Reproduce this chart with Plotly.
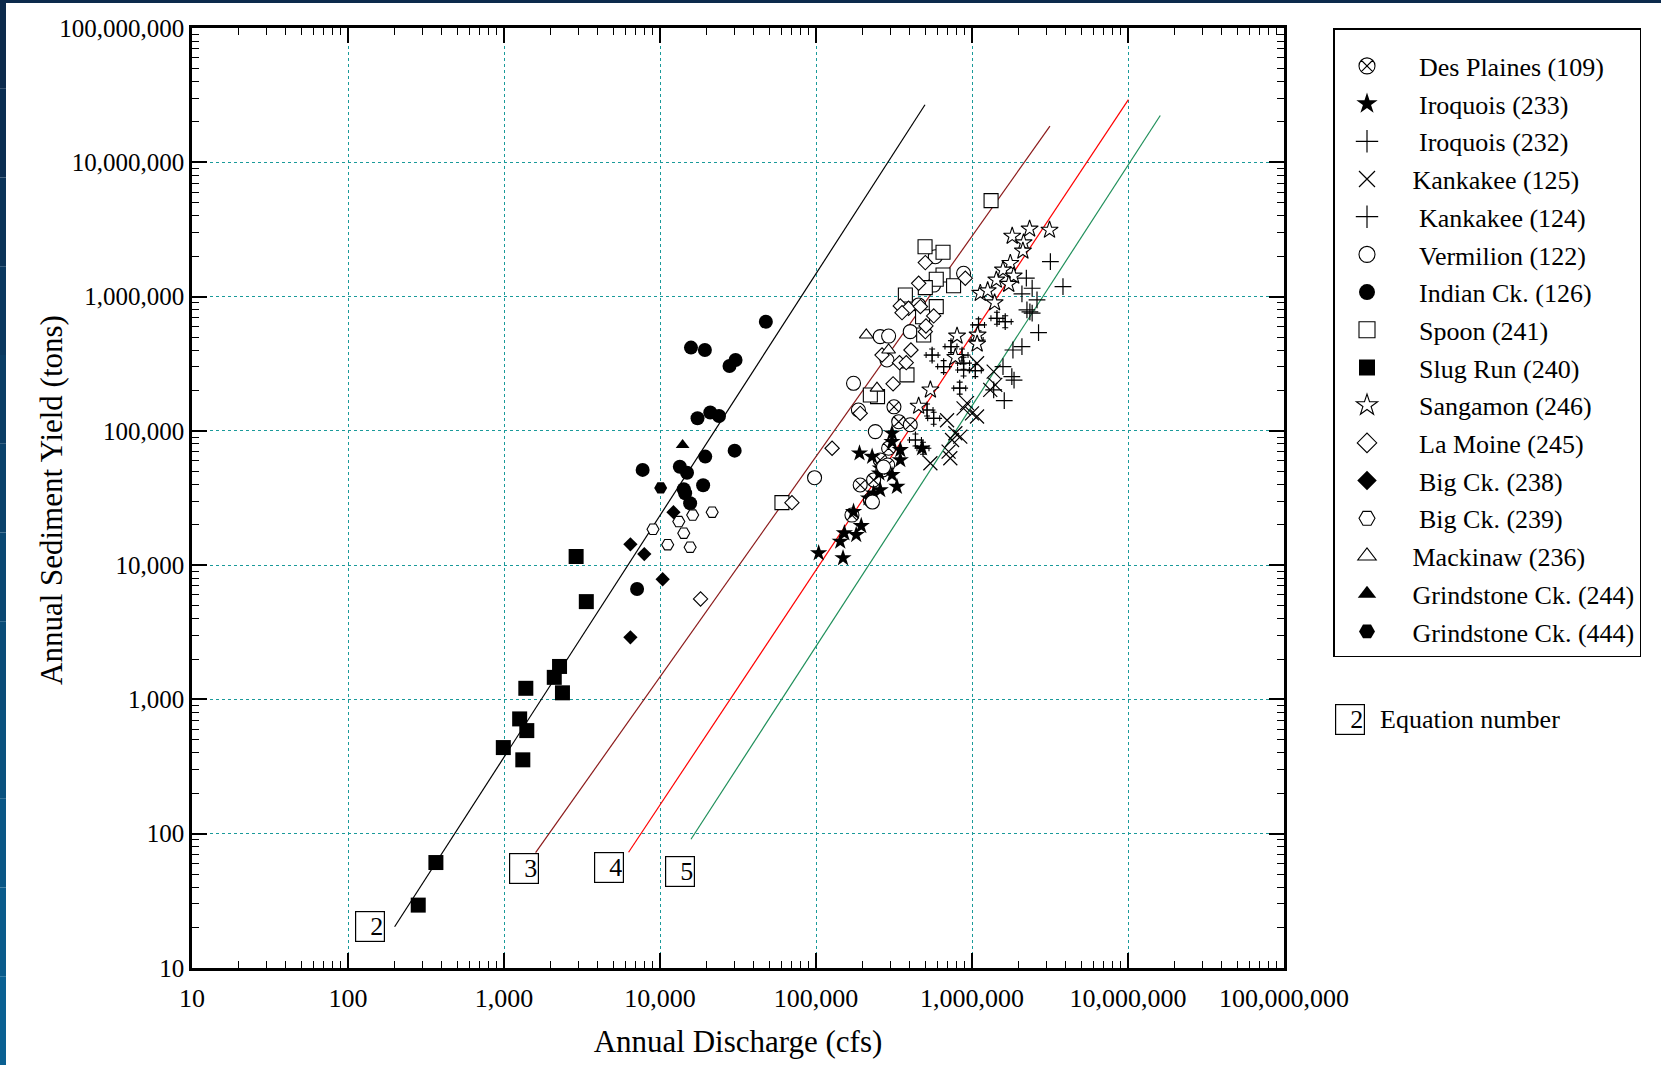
import math
import plotly.graph_objects as go

# ---------------- data ----------------
tick_vals = [10, 100, 1000, 10000, 100000, 1000000, 10000000, 100000000]
tick_text = ["10", "100", "1,000", "10,000", "100,000", "1,000,000", "10,000,000", "100,000,000"]

des_plaines_x = [316000, 339000, 402000, 292000, 258000, 288000, 268000, 192000, 234000, 223000, 170000]
des_plaines_y = [151000, 117000, 111000, 74200, 60700, 55700, 51200, 39500, 43100, 30600, 23600]

iroquois233_x = [104000, 149000, 143000, 152000, 181000, 195000, 174000, 190000, 229000, 307000, 307000,
                 347000, 347000, 258000, 307000, 330000, 258000, 234000, 217000, 478000, 255000]
iroquois233_y = [12300, 11300, 15000, 17300, 16800, 19600, 25000, 68100, 64300, 96000, 83000,
                 72100, 60700, 52700, 47000, 38400, 36300, 34300, 31500, 74200, 48300]

iroquois232_x = [1101000, 1445000, 1633000, 733000, 555000, 658000, 863000, 883000, 1050000, 834000,
                 515000, 568000, 434000, 485000, 1079000, 883000]
iroquois232_y = [615000, 689000, 650000, 424000, 367000, 301000, 367000, 284000, 281000, 208000,
                 143000, 124000, 85500, 74200, 475000, 319000]

kankakee125_x = [1077000, 1377000, 1309000, 929000, 1000000, 1077000, 692000, 782000, 745000, 708000,
                 726000, 541000, 883000, 1410000, 841000]
kankakee125_y = [319000, 276000, 202000, 161000, 135000, 128000, 120000, 96000, 85500, 70000,
                 62500, 57400, 147000, 220000, 90600]

kankakee124_x = [3180000, 3830000, 2230000, 2430000, 2090000, 2610000, 2250000, 2430000, 2670000,
                 2090000, 1830000, 1580000, 1800000, 1860000, 1610000, 1377000, 2350000]
kankakee124_y = [1820000, 1185000, 1370000, 1153000, 1046000, 944000, 795000, 752000, 538000,
                 424000, 400000, 301000, 253000, 239000, 168000, 202000, 770000]

vermilion_x = [174000, 258000, 292000, 285000, 402000, 455000, 568000, 883000, 582000, 187000,
               240000, 97900, 271000, 230000]
vermilion_y = [226000, 503000, 508000, 337000, 548000, 866000, 1218000, 1490000, 1980000, 143000,
               98700, 44800, 53800, 29500]

indian_x = [47700, 15800, 19400, 30500, 27900, 21000, 23900, 17400, 30100, 19500, 7740, 13400,
            14900, 18900, 14200, 15600, 7130, 14500]
indian_y = [650000, 417000, 400000, 337000, 304000, 137000, 129000, 124000, 71200, 64300, 51200, 54100,
            48800, 39400, 36700, 28900, 6650, 34300]

spoon_x = [500000, 652000, 652000, 762000, 590000, 374000, 502000, 590000, 482000, 490000, 383000,
           248000, 60500, 1325000, 223000]
spoon_y = [2350000, 2140000, 1448000, 1205000, 1345000, 1028000, 1165000, 842000, 708000, 518000, 261000,
           180000, 29200, 5180000, 185000]

slug_x = [2900, 3370, 2270, 2100, 1380, 2370, 1260, 1400, 990, 1320, 366, 282]
slug_y = [11600, 5350, 1760, 1460, 1210, 1120, 716, 586, 438, 355, 61, 29.4]

sangamon_x = [2340000, 3140000, 1810000, 2140000, 2120000, 1760000, 1580000, 1850000, 1432000, 1720000,
              1130000, 1260000, 1396000, 802000, 1086000, 782000, 541000, 455000, 1079000]
sangamon_y = [3190000, 3130000, 2820000, 2520000, 2186000, 1770000, 1578000, 1424000, 1329000, 1236000,
              1059000, 1107000, 901000, 509000, 518000, 353000, 202000, 153000, 444000]

lamoine_x = [18200, 70100, 126800, 192000, 312000, 265000, 343000, 406000, 379000, 502000, 347000,
             392000, 467000, 568000, 455000, 502000, 906000, 356000, 507000]
lamoine_y = [5600, 29200, 74200, 135000, 224000, 367000, 322000, 400000, 322000, 548000, 851000,
             818000, 842000, 718000, 1256000, 1790000, 1370000, 759000, 604000]

bigck238_x = [12200, 6460, 7930, 10400, 6460]
bigck238_y = [24800, 14300, 12100, 7850, 2900]

bigck239_x = [16200, 21600, 13200, 9020, 14200, 11200, 15600]
bigck239_y = [23600, 24800, 21100, 18500, 17300, 14200, 13600]

mackinaw_x = [210000, 292000, 246000]
mackinaw_y = [518000, 400000, 208000]

grind244_x = [13960]
grind244_y = [78500]

grind444_x = [10100]
grind444_y = [37600]

# regression lines (end points) for equations 2-5
eq_names = ["2", "3", "4", "5"]
eq_x = [[199, 499600], [1594, 3160000], [6290, 10060000], [15800, 16100000]]
eq_y = [[20.3, 26800000], [72.3, 18600000], [72.8, 29300000], [91, 22300000]]
eq_colors = ["#000000", "#8b1a1a", "#ff0000", "#1f8f5a"]

FONT = "Liberation Serif"
SP3 = "\u00a0\u00a0\u00a0"
SP2 = "\u00a0\u00a0"

fig = go.Figure()

for xs, ys, c in zip(eq_x, eq_y, eq_colors):
    fig.add_trace(go.Scatter(x=xs, y=ys, mode="lines", line=dict(color=c, width=1.2),
                             showlegend=False, hoverinfo="skip"))

def open_m(sym, size):
    return dict(symbol=sym, size=size, color="white", line=dict(color="black", width=1.1))

def fill_m(sym, size):
    return dict(symbol=sym, size=size, color="black", line=dict(color="black", width=0))

def line_m(sym, size):
    return dict(symbol=sym, size=size, color="black", line=dict(color="black", width=1.2))

kx = 10 ** (6 / 156.0)
ky = 10 ** (6 / 134.3)

# (legend name, indent, x, y, plot marker, legend marker)
series = [
    ("Des Plaines (109)", SP3, des_plaines_x, des_plaines_y, open_m("circle-x", 14), open_m("circle-x", 16)),
    ("Iroquois (233)", SP3, iroquois233_x, iroquois233_y, fill_m("star", 13), fill_m("star", 16)),
    ("Iroquois (232)", SP3, iroquois232_x, iroquois232_y, line_m("cross-thin-open", 12), line_m("cross-thin-open", 16)),
    ("Kankakee (125)", SP2, kankakee125_x, kankakee125_y, line_m("x-thin-open", 14), line_m("x-thin-open", 16)),
    ("Kankakee (124)", SP3, kankakee124_x, kankakee124_y, line_m("cross-thin-open", 12), line_m("cross-thin-open", 16)),
    ("Vermilion (122)", SP3, vermilion_x, vermilion_y, open_m("circle", 14), open_m("circle", 16)),
    ("Indian Ck. (126)", SP3, indian_x, indian_y, fill_m("circle", 14), fill_m("circle", 16)),
    ("Spoon (241)", SP3, spoon_x, spoon_y, open_m("square", 14), open_m("square", 16)),
    ("Slug Run (240)", SP3, slug_x, slug_y, fill_m("square", 15), fill_m("square", 16)),
    ("Sangamon (246)", SP3, sangamon_x, sangamon_y, open_m("star", 13), open_m("star", 16)),
    ("La Moine (245)", SP3, lamoine_x, lamoine_y, open_m("diamond", 11), open_m("diamond", 15)),
    ("Big Ck. (238)", SP3, bigck238_x, bigck238_y, fill_m("diamond", 11), fill_m("diamond", 15)),
    ("Big Ck. (239)", SP3, bigck239_x, bigck239_y, open_m("hexagon2", 12), open_m("hexagon2", 16)),
    ("Mackinaw (236)", SP2, mackinaw_x, mackinaw_y, open_m("triangle-up", 12), open_m("triangle-up", 16)),
    ("Grindstone Ck. (244)", SP2, grind244_x, grind244_y, fill_m("triangle-up", 12), fill_m("triangle-up", 16)),
    ("Grindstone Ck. (444)", SP2, grind444_x, grind444_y, fill_m("hexagon2", 13), fill_m("hexagon2", 16)),
]

for i, (name, pad, xs, ys, m, lm) in enumerate(series):
    kw = {}
    if name == "Iroquois (232)":
        kw["error_x"] = dict(type="data", symmetric=False,
                             array=[v * (kx - 1) for v in xs], arrayminus=[v * (1 - 1 / kx) for v in xs],
                             color="black", thickness=1.1, width=3)
        kw["error_y"] = dict(type="data", symmetric=False,
                             array=[v * (ky - 1) for v in ys], arrayminus=[v * (1 - 1 / ky) for v in ys],
                             color="black", thickness=1.1, width=3)
    fig.add_trace(go.Scatter(x=xs, y=ys, mode="markers", name=name, marker=m,
                             legendgroup="g%d" % i, showlegend=False, **kw))

# legend entries (bigger symbols, like the original key)
for i, (name, pad, xs, ys, m, lm) in enumerate(series):
    fig.add_trace(go.Scatter(x=[None], y=[None], mode="markers", name=pad + name, marker=lm,
                             legendgroup="g%d" % i, showlegend=True))

minor_vals = [m * 10 ** d for d in range(1, 8) for m in range(2, 10)]

axis_common = dict(
    type="log", range=[1, 8], tickmode="array", tickvals=tick_vals, ticktext=tick_text,
    ticks="inside", ticklen=15, tickwidth=1.5, tickcolor="black",
    showline=True, linecolor="black", linewidth=2.5, mirror="allticks",
    showgrid=True, gridcolor="#1a9a9a", griddash="dot", gridwidth=1,
    zeroline=False, automargin=False,
    minor=dict(tickmode="array", tickvals=minor_vals, ticks="inside", ticklen=7,
               tickwidth=1, tickcolor="black", showgrid=False),
)

fig.update_xaxes(**axis_common, ticklabelstandoff=5,
                 tickfont=dict(family=FONT, size=26, color="black"),
                 title=dict(text="Annual Discharge (cfs)", font=dict(family=FONT, size=31, color="black"),
                            standoff=19))
fig.update_yaxes(**axis_common, ticklabelstandoff=0,
                 tickfont=dict(family=FONT, size=25, color="black"))

# page geometry helpers
W, H = 1661.0, 1065.0
L, T, PW, PH = 192.0, 28.0, 1092.0, 940.0
def px2paper_x(p):
    return (p - L) / PW
def px2paper_y(q):
    return (T + PH - q) / PH

# y axis title
fig.add_annotation(x=px2paper_x(51), y=px2paper_y(500), xref="paper", yref="paper",
                   text="Annual Sediment Yield (tons)", textangle=-90, showarrow=False,
                   xanchor="center", yanchor="middle",
                   font=dict(family=FONT, size=31, color="black"))

# equation number boxes attached to the start of each line
eq_label_offsets = [(-10, 0, "middle"), (3, 0, "top"), (-5, 0, "top"), (4, -17, "top")]
for name, xs, ys, (dx, dy, ya) in zip(eq_names, eq_x, eq_y, eq_label_offsets):
    fig.add_annotation(x=math.log10(xs[0]), y=math.log10(ys[0]), xref="x", yref="y",
                       text=name, showarrow=False, xanchor="right", yanchor=ya,
                       xshift=dx, yshift=dy, width=26, height=27, align="right",
                       bordercolor="black", borderwidth=1.2, borderpad=1, bgcolor="white",
                       font=dict(family=FONT, size=26, color="black"))

# "Equation number" key
fig.add_annotation(x=px2paper_x(1349.5), y=px2paper_y(719), xref="paper", yref="paper", text="2",
                   showarrow=False, xanchor="center", yanchor="middle", width=26, height=27, align="right",
                   bordercolor="black", borderwidth=1.2, borderpad=1, bgcolor="white",
                   font=dict(family=FONT, size=26, color="black"))
fig.add_annotation(x=px2paper_x(1378), y=px2paper_y(719), xref="paper", yref="paper", text="Equation number",
                   showarrow=False, xanchor="left", yanchor="middle",
                   font=dict(family=FONT, size=26, color="black"))

# page frame strips
shapes = [dict(type="rect", xref="paper", yref="paper", x0=px2paper_x(0), x1=px2paper_x(W),
               y0=px2paper_y(3), y1=px2paper_y(0), fillcolor="#0c2a4c", line=dict(width=0), layer="above")]
nb = 12
for k in range(nb):
    t = k / (nb - 1)
    r = int(12 + (10 - 12) * t)
    g = int(42 + (96 - 42) * t)
    b = int(76 + (146 - 76) * t)
    shapes.append(dict(type="rect", xref="paper", yref="paper", x0=px2paper_x(0), x1=px2paper_x(6),
                       y0=px2paper_y(H * (k + 1) / nb), y1=px2paper_y(H * k / nb),
                       fillcolor="rgb(%d,%d,%d)" % (r, g, b), line=dict(width=0), layer="above"))

fig.update_layout(
    width=1661, height=1065,
    margin=dict(l=192, r=377, t=28, b=97),
    paper_bgcolor="white", plot_bgcolor="white",
    showlegend=True,
    legend=dict(x=px2paper_x(1333), y=1, xanchor="left", yanchor="top",
                bordercolor="black", borderwidth=1.5, bgcolor="white",
                font=dict(family=FONT, size=26, color="black"),
                title=dict(text="\u00a0", font=dict(family=FONT, size=10)),
                itemwidth=55, tracegroupgap=0.9, itemsizing="trace",
                itemclick=False, itemdoubleclick=False),
    shapes=shapes,
    font=dict(family=FONT, color="black"),
)

fig.write_html("out.html")
